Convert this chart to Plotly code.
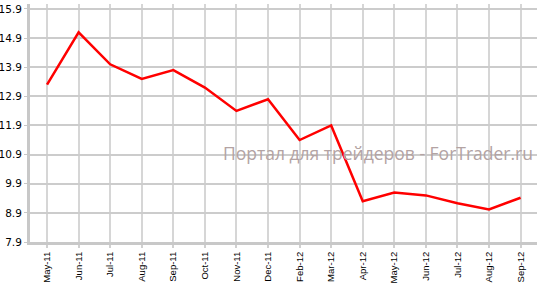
import plotly.graph_objects as go

months = ["May-11", "Jun-11", "Jul-11", "Aug-11", "Sep-11", "Oct-11", "Nov-11", "Dec-11",
          "Feb-12", "Mar-12", "Apr-12", "May-12", "Jun-12", "Jul-12", "Aug-12", "Sep-12"]
values = [13.3, 15.1, 14.0, 13.5, 13.8, 13.2, 12.4, 12.8,
          11.4, 11.9, 9.3, 9.6, 9.5, 9.23, 9.02, 9.42]
y_ticks = [7.9, 8.9, 9.9, 10.9, 11.9, 12.9, 13.9, 14.9, 15.9]
watermark = "Портал для трейдеров - ForTrader.ru"

fig = go.Figure()
fig.add_trace(go.Scatter(x=months, y=values, mode="lines",
                         line=dict(color="#ff0000", width=2.5)))

fig.update_layout(
    width=540, height=285,
    margin=dict(l=30, r=3, t=4, b=43),
    paper_bgcolor="white", plot_bgcolor="white",
    showlegend=False,
    font=dict(family="DejaVu Sans, Verdana, sans-serif", color="black"),
    annotations=[dict(text=watermark, xref="paper", yref="paper",
                      x=0.686, y=0.372, xanchor="center", yanchor="middle",
                      showarrow=False,
                      font=dict(family="Open Sans, sans-serif", size=17.5, color="#b3a3a3"))],
)
fig.update_xaxes(
    type="category", range=[-0.54, 15.52], automargin=False,
    showgrid=True, gridcolor="#d6d6d6", gridwidth=2,
    showline=True, linecolor="#c8c8c8", linewidth=3,
    ticks="outside", ticklen=3, tickcolor="#d0d0d0", tickwidth=2,
    tickangle=-90, tickfont=dict(size=9.5, family="Liberation Sans, Arial, sans-serif"),
    zeroline=False,
)
fig.update_yaxes(
    range=[7.9, 16.07], tickvals=y_ticks, ticktext=[f"{v:.1f}" for v in y_ticks],
    automargin=False,
    showgrid=True, gridcolor="#cccccc", gridwidth=1.5,
    showline=True, linecolor="#c8c8c8", linewidth=3,
    ticks="outside", ticklen=3, tickcolor="#c8c8c8",
    tickfont=dict(size=10.5, family="DejaVu Sans, Verdana, sans-serif"),
    zeroline=False,
)

fig.write_html("out.html")
